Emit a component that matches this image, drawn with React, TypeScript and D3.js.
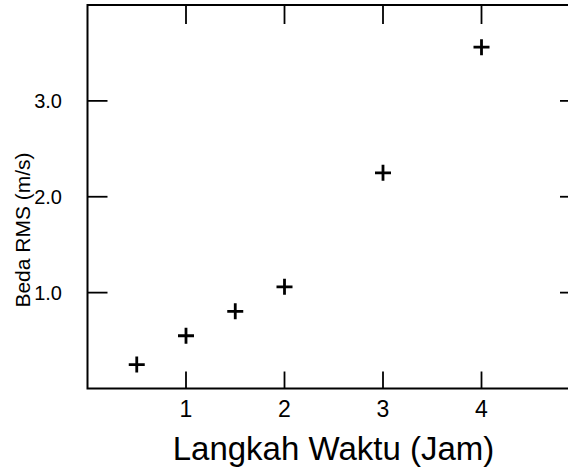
import React from "react";
import * as d3 from "d3";

const steps = [0.5, 1, 1.5, 2, 3, 4];
const rmsDiff = [0.25, 0.55, 0.805, 1.06, 2.25, 3.56];
const xTicks = [1, 2, 3, 4];
const yTicks = [1, 2, 3];
const xTitle = "Langkah Waktu (Jam)";
const yTitle = "Beda RMS (m/s)";

export default function App() {
  const W = 568, H = 468;
  const x = d3.scaleLinear().domain([0, 5]).range([87.5, 580]);
  const y = d3.scaleLinear().domain([0, 4]).range([388.5, 5]);
  const font = "'Liberation Sans', Arial, sans-serif";
  const x0 = x(0), x1 = x(5), y0 = y(0), y1 = y(4);
  const s = 8;
  return (
    <svg width={W} height={H} style={{ position: "absolute", left: 0, top: 0, background: "#fff" }}>
      <rect x={0} y={0} width={W} height={H} fill="#fff" />
      <rect x={x0} y={y1} width={x1 - x0} height={y0 - y1} fill="none" stroke="#000" strokeWidth={2} />
      {xTicks.map((t) => (
        <g key={"xt" + t}>
          <line x1={x(t)} x2={x(t)} y1={y0} y2={y0 - 17} stroke="#000" strokeWidth={1.8} />
          <line x1={x(t)} x2={x(t)} y1={y1} y2={y1 + 19} stroke="#000" strokeWidth={1.8} />
          <text x={x(t)} y={417} textAnchor="middle" fontFamily={font} fontSize={23} fill="#000">
            {d3.format("d")(t)}
          </text>
        </g>
      ))}
      {yTicks.map((t) => (
        <g key={"yt" + t}>
          <line x1={x0} x2={x0 + 20} y1={y(t)} y2={y(t)} stroke="#000" strokeWidth={1.8} />
          <line x1={x1} x2={x1 - 20} y1={y(t)} y2={y(t)} stroke="#000" strokeWidth={1.8} />
          <text x={62} y={y(t)} dy="0.36em" textAnchor="end" fontFamily={font} fontSize={20} fill="#000">
            {d3.format(".1f")(t)}
          </text>
        </g>
      ))}
      {steps.map((v, i) => (
        <path
          key={"p" + i}
          d={`M${x(v) - s},${y(rmsDiff[i])}H${x(v) + s}M${x(v)},${y(rmsDiff[i]) - s}V${y(rmsDiff[i]) + s}`}
          stroke="#000"
          strokeWidth={2.8}
          fill="none"
        />
      ))}
      <text x={333.5} y={460} textAnchor="middle" fontFamily={font} fontSize={33} fill="#000">
        {xTitle}
      </text>
      <text
        transform={`translate(29.5,230) rotate(-90)`}
        textAnchor="middle"
        fontFamily={font}
        fontSize={21}
        fill="#000"
      >
        {yTitle}
      </text>
    </svg>
  );
}
